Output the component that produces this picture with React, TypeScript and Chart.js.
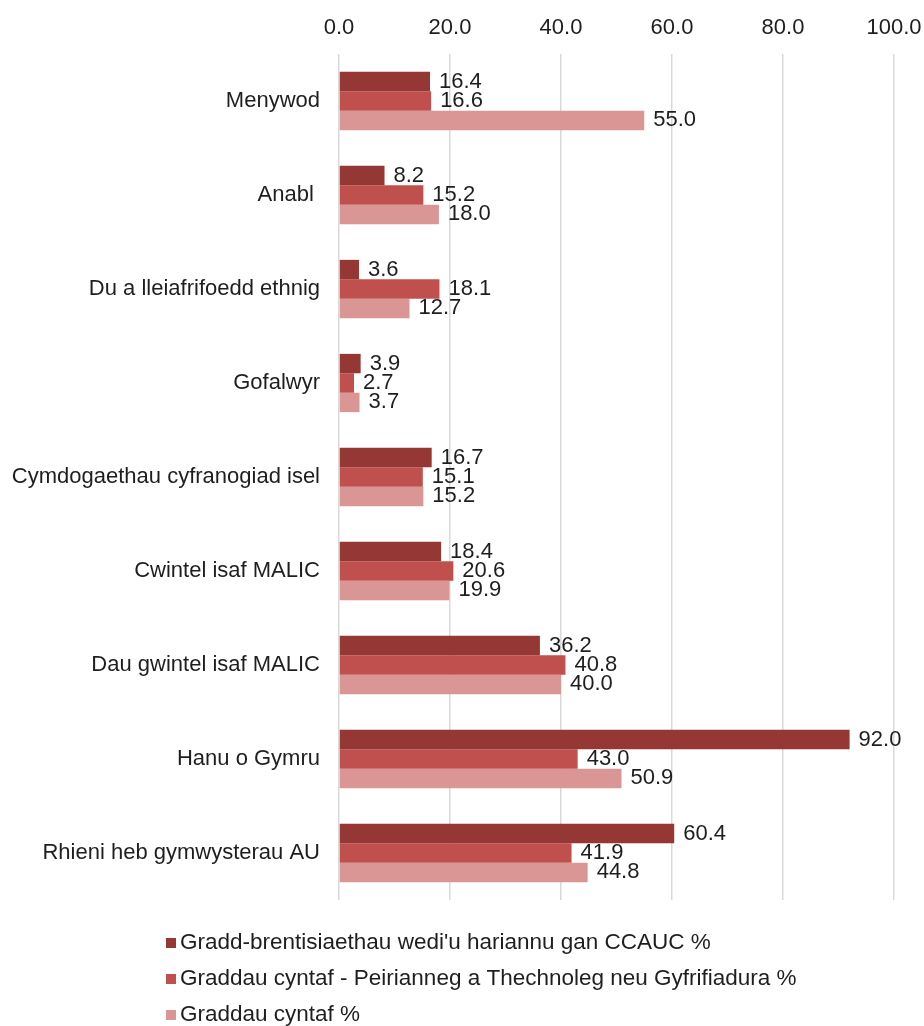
import React, { useEffect, useRef } from "react";
import { Chart, registerables } from "chart.js";

Chart.register(...registerables);

const categories = [
  "Menywod",
  "Anabl ",
  "Du a lleiafrifoedd ethnig",
  "Gofalwyr",
  "Cymdogaethau cyfranogiad isel",
  "Cwintel isaf MALIC",
  "Dau gwintel isaf MALIC",
  "Hanu o Gymru",
  "Rhieni heb gymwysterau AU",
];

const seriesNames = [
  "Gradd-brentisiaethau wedi'u hariannu gan CCAUC %",
  "Graddau cyntaf - Peirianneg a Thechnoleg neu Gyfrifiadura %",
  "Graddau cyntaf %",
];

const apprenticeValues = [16.4, 8.2, 3.6, 3.9, 16.7, 18.4, 36.2, 92.0, 60.4];
const engineeringValues = [16.6, 15.2, 18.1, 2.7, 15.1, 20.6, 40.8, 43.0, 41.9];
const firstDegreeValues = [55.0, 18.0, 12.7, 3.7, 15.2, 19.9, 40.0, 50.9, 44.8];

const seriesColors = ["#953735", "#C0504D", "#D99694"];

const FONT = '"Liberation Sans", Arial, sans-serif';
const FONT_SIZE = 22;
const LEGEND_FONT_SIZE = 22.5;
const TEXT_COLOR = "#1e1e1e";

const dataLabelPlugin = {
  id: "dataLabels",
  afterDatasetsDraw(chart: any) {
    const ctx = chart.ctx;
    ctx.save();
    ctx.font = `${FONT_SIZE}px ${FONT}`;
    ctx.fillStyle = TEXT_COLOR;
    ctx.textAlign = "left";
    ctx.textBaseline = "middle";
    chart.data.datasets.forEach((ds: any, i: number) => {
      const meta = chart.getDatasetMeta(i);
      meta.data.forEach((bar: any, j: number) => {
        const v = ds.data[j] as number;
        ctx.fillText(v.toFixed(1), bar.x + 9, bar.y);
      });
    });
    ctx.restore();
  },
};

const legendPlugin = {
  id: "customLegend",
  afterDraw(chart: any) {
    const ctx = chart.ctx;
    ctx.save();
    ctx.font = `${LEGEND_FONT_SIZE}px ${FONT}`;
    ctx.textAlign = "left";
    ctx.textBaseline = "middle";
    const startY = chart.chartArea.bottom + 43;
    seriesNames.forEach((name, i) => {
      const y = startY + i * 36;
      ctx.fillStyle = seriesColors[i];
      ctx.fillRect(166, y - 5, 10, 10);
      ctx.fillStyle = TEXT_COLOR;
      ctx.fillText(name, 180, y);
    });
    ctx.restore();
  },
};

export default function App() {
  const canvasRef = useRef<HTMLCanvasElement | null>(null);

  useEffect(() => {
    const canvas = canvasRef.current;
    if (!canvas) return;
    const values = [apprenticeValues, engineeringValues, firstDegreeValues];
    const chart = new Chart(canvas, {
      type: "bar",
      data: {
        labels: categories,
        datasets: seriesNames.map((name, i) => ({
          label: name,
          data: values[i],
          backgroundColor: seriesColors[i],
          borderWidth: 0,
          categoryPercentage: 0.62,
          barPercentage: 1.0,
        })),
      },
      options: {
        indexAxis: "y",
        responsive: false,
        animation: false,
        devicePixelRatio: 1,
        layout: { padding: { left: 0, right: 30, top: 0, bottom: 126 } },
        plugins: {
          legend: { display: false },
          tooltip: { enabled: false },
        },
        scales: {
          x: {
            position: "top",
            min: 0,
            max: 100,
            ticks: {
              stepSize: 20,
              padding: 13,
              color: TEXT_COLOR,
              font: { family: FONT, size: FONT_SIZE },
              callback: (v: any) => Number(v).toFixed(1),
            },
            grid: { color: "#d9d9d9", lineWidth: 1.5, drawTicks: false },
            border: { display: false },
            afterFit: (scale: any) => {
              scale.height = 54;
              scale.paddingLeft = 0;
              scale.paddingRight = 0;
            },
          },
          y: {
            ticks: {
              padding: 19,
              color: TEXT_COLOR,
              font: { family: FONT, size: FONT_SIZE },
            },
            grid: { display: false, drawTicks: false },
            border: { display: false },
            afterFit: (scale: any) => {
              scale.width = 339;
              scale.paddingTop = 0;
              scale.paddingBottom = 0;
            },
          },
        },
      },
      plugins: [dataLabelPlugin, legendPlugin],
    });
    return () => chart.destroy();
  }, []);

  return (
    <div style={{ position: "absolute", left: 0, top: 0, width: 924, height: 1026, background: "#fff" }}>
      <canvas ref={canvasRef} width={924} height={1026} style={{ width: 924, height: 1026, display: "block" }} />
    </div>
  );
}
